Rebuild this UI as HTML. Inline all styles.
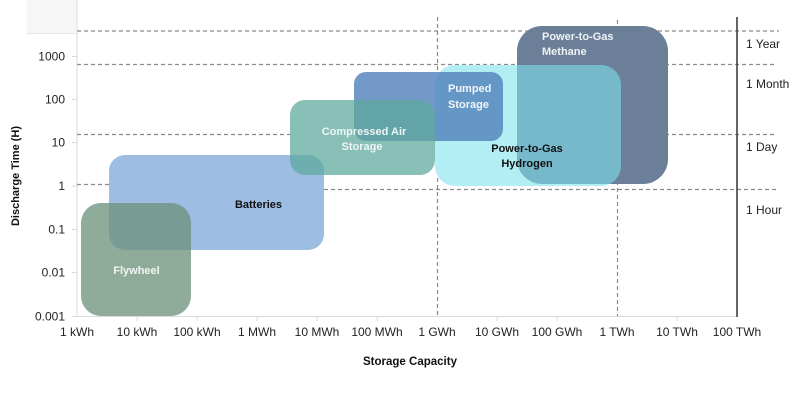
<!DOCTYPE html>
<html><head><meta charset="utf-8"><style>
html,body{margin:0;padding:0;background:#fff;}
svg{display:block;}
text{font-family:"Liberation Sans",Arial,sans-serif;}
</style></head><body>
<svg width="800" height="403" viewBox="0 0 800 403" xmlns="http://www.w3.org/2000/svg">
<rect x="0" y="0" width="800" height="403" fill="#fff"/>
<!-- top-left box -->
<rect x="27" y="0" width="49" height="33" fill="#f6f6f6"/>
<line x1="27" y1="33.5" x2="76" y2="33.5" stroke="#e6e6e6" stroke-width="1"/>
<!-- axes -->
<line x1="77" y1="0" x2="77" y2="316" stroke="#d9d9d9" stroke-width="1"/>
<line x1="77" y1="316.5" x2="737" y2="316.5" stroke="#d9d9d9" stroke-width="1"/>
<g stroke="#d9d9d9" stroke-width="1">
<line x1="72" y1="56.5" x2="77" y2="56.5"/>
<line x1="72" y1="99.5" x2="77" y2="99.5"/>
<line x1="72" y1="142.5" x2="77" y2="142.5"/>
<line x1="72" y1="186" x2="77" y2="186"/>
<line x1="72" y1="229.5" x2="77" y2="229.5"/>
<line x1="72" y1="272.5" x2="77" y2="272.5"/>
<line x1="72" y1="316.5" x2="77" y2="316.5"/>
<line x1="137" y1="316" x2="137" y2="321"/>
<line x1="197" y1="316" x2="197" y2="321"/>
<line x1="257" y1="316" x2="257" y2="321"/>
<line x1="317" y1="316" x2="317" y2="321"/>
<line x1="377" y1="316" x2="377" y2="321"/>
<line x1="497" y1="316" x2="497" y2="321"/>
<line x1="557" y1="316" x2="557" y2="321"/>
<line x1="677" y1="316" x2="677" y2="321"/>
</g>
<!-- dashed reference lines -->
<g stroke="#8a8a8a" stroke-width="1.2" stroke-dasharray="4 3" fill="none">
<line x1="77" y1="31" x2="779" y2="31"/>
<line x1="77" y1="64.5" x2="775" y2="64.5"/>
<line x1="77" y1="134.5" x2="774" y2="134.5"/>
<line x1="77" y1="184.5" x2="110" y2="184.5"/>
<line x1="324" y1="189.5" x2="777" y2="189.5"/>
<line x1="437.5" y1="17" x2="437.5" y2="316"/>
<line x1="617.5" y1="20" x2="617.5" y2="316"/>
</g>
<line x1="737" y1="17" x2="737" y2="317" stroke="#3f3f3f" stroke-width="1.6"/>
<!-- white underlay to hide lines beneath shapes -->
<g fill="#fff">
<rect x="517" y="26" width="151" height="158" rx="25"/>
<rect x="435" y="65" width="186" height="121" rx="20"/>
<rect x="354" y="72" width="149" height="69" rx="12"/>
<rect x="109" y="155" width="215" height="95" rx="16"/>
<rect x="290" y="100" width="145" height="75" rx="15"/>
<rect x="81" y="203" width="110" height="113" rx="20"/>
</g>
<!-- shapes -->
<rect x="517" y="26" width="151" height="158" rx="25" fill="#6b7f99"/>
<rect x="435" y="65" width="186" height="121" rx="20" fill="rgb(126,226,238)" fill-opacity="0.59"/>
<rect x="354" y="72" width="149" height="69" rx="12" fill="rgb(80,128,186)" fill-opacity="0.8"/>
<rect x="109" y="155" width="215" height="95" rx="16" fill="#9ebde3"/>
<rect x="290" y="100" width="145" height="75" rx="15" fill="rgb(92,169,156)" fill-opacity="0.73"/>
<rect x="81" y="203" width="110" height="113" rx="20" fill="rgb(108,146,123)" fill-opacity="0.76"/>
<!-- shape labels -->
<g font-weight="bold" font-size="11">
<text x="542" y="40" fill="#eef2f6">Power-to-Gas</text>
<text x="542" y="55" fill="#eef2f6">Methane</text>
<text x="448" y="92" fill="#f2f6fa">Pumped</text>
<text x="448" y="108" fill="#f2f6fa">Storage</text>
<text x="364" y="135" text-anchor="middle" fill="#eef6f4">Compressed Air</text>
<text x="362" y="150" text-anchor="middle" fill="#eef6f4">Storage</text>
<text x="527" y="152" text-anchor="middle" fill="#111">Power-to-Gas</text>
<text x="527" y="167" text-anchor="middle" fill="#111">Hydrogen</text>
<text x="258.5" y="208" text-anchor="middle" fill="#111">Batteries</text>
<text x="136.5" y="274" text-anchor="middle" fill="#f2f5f3">Flywheel</text>
</g>
<!-- y tick labels -->
<g font-size="12" fill="#222" text-anchor="end">
<text x="65" y="60.5">1000</text>
<text x="65" y="103.5">100</text>
<text x="65" y="146.5">10</text>
<text x="65" y="190">1</text>
<text x="65" y="233.5">0.1</text>
<text x="65" y="276.5">0.01</text>
<text x="65" y="320.5">0.001</text>
</g>
<!-- x tick labels -->
<g font-size="12" fill="#222" text-anchor="middle">
<text x="77" y="336">1 kWh</text>
<text x="137" y="336">10 kWh</text>
<text x="197" y="336">100 kWh</text>
<text x="257" y="336">1 MWh</text>
<text x="317" y="336">10 MWh</text>
<text x="377" y="336">100 MWh</text>
<text x="437" y="336">1 GWh</text>
<text x="497" y="336">10 GWh</text>
<text x="557" y="336">100 GWh</text>
<text x="617" y="336">1 TWh</text>
<text x="677" y="336">10 TWh</text>
<text x="737" y="336">100 TWh</text>
</g>
<!-- right labels -->
<g font-size="12" fill="#222">
<text x="746" y="48">1 Year</text>
<text x="746" y="88">1 Month</text>
<text x="746" y="151">1 Day</text>
<text x="746" y="214">1 Hour</text>
</g>
<!-- axis titles -->
<text x="410" y="365" font-size="11.5" font-weight="bold" fill="#111" text-anchor="middle">Storage Capacity</text>
<text transform="translate(19,176) rotate(-90)" font-size="11" font-weight="bold" fill="#111" text-anchor="middle">Discharge Time (H)</text>
</svg>
</body></html>
